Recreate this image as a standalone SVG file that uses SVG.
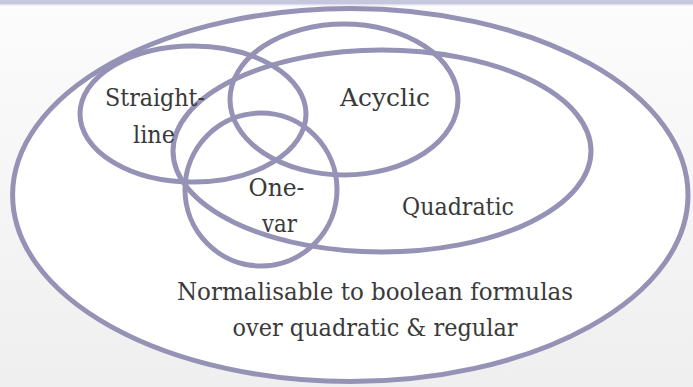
<svg xmlns="http://www.w3.org/2000/svg" width="693" height="387" viewBox="0 0 693 387">
<defs>
<linearGradient id="bg" x1="0" y1="0" x2="0" y2="1">
<stop offset="0" stop-color="#fcfcfc"/>
<stop offset="1" stop-color="#efefef"/>
</linearGradient>
</defs>
<style>
.set{fill:none;stroke:#9692b5;stroke-width:5}
.lbl{font-family:"DejaVu Serif","Liberation Serif",serif;font-size:25px;fill:#3a3a3a;text-anchor:middle}
</style>
<rect x="0" y="0" width="693" height="387" fill="url(#bg)"/>
<rect x="0" y="0" width="693" height="4" fill="#c6c6df"/>
<rect x="0" y="4" width="693" height="1.5" fill="#e0e0ee"/>
<g id="normalisable">
<ellipse cx="350.3" cy="195" rx="337.7" ry="186.5" class="set" style="fill:#ffffff"/>
<text class="lbl" x="375" y="300" textLength="396" lengthAdjust="spacingAndGlyphs">Normalisable to boolean formulas</text>
<text class="lbl" x="375" y="336" textLength="285" lengthAdjust="spacingAndGlyphs">over quadratic &amp; regular</text>
</g>
<g id="quadratic">
<ellipse cx="382" cy="151" rx="209" ry="101" class="set"/>
<text class="lbl" x="458" y="215" textLength="112" lengthAdjust="spacingAndGlyphs">Quadratic</text>
</g>
<g id="straight-line">
<ellipse cx="193" cy="114" rx="113" ry="68" class="set"/>
<text class="lbl" x="155" y="106" textLength="100" lengthAdjust="spacingAndGlyphs">Straight-</text>
<text class="lbl" x="154" y="143" textLength="42" lengthAdjust="spacingAndGlyphs">line</text>
</g>
<g id="acyclic">
<ellipse cx="344" cy="99.5" rx="114" ry="75.5" class="set"/>
<text class="lbl" x="385" y="106" textLength="90" lengthAdjust="spacingAndGlyphs">Acyclic</text>
</g>
<g id="one-var">
<ellipse cx="261" cy="189.5" rx="76" ry="76.5" class="set"/>
<text class="lbl" x="276.5" y="196" textLength="56" lengthAdjust="spacingAndGlyphs">One-</text>
<text class="lbl" x="279.5" y="232" textLength="35" lengthAdjust="spacingAndGlyphs">var</text>
</g>
<g id="connectors"/>
</svg>
